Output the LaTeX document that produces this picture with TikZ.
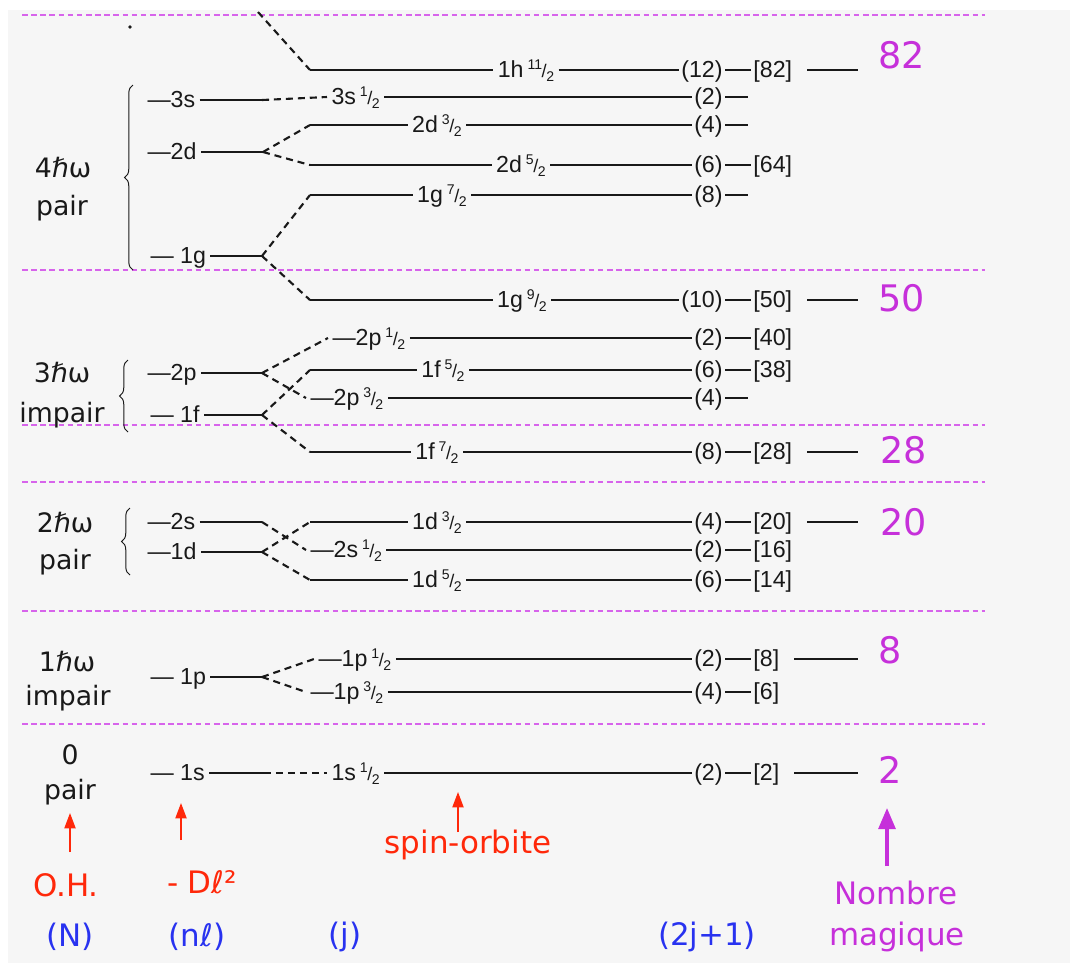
\documentclass[tikz,border=0pt]{standalone}
\usepackage{fontspec}
\setmainfont{Liberation Sans}
\newfontfamily\hand{DejaVu Sans}
\usetikzlibrary{arrows.meta,decorations.pathreplacing}
\definecolor{ink}{RGB}{25,25,25}
\definecolor{bgc}{RGB}{246,246,246}
\definecolor{sepc}{RGB}{215,100,235}
\definecolor{magc}{RGB}{198,48,218}
\definecolor{redc}{RGB}{255,40,10}
\definecolor{bluec}{RGB}{40,50,240}
\newcommand\jf[2]{\raisebox{0.6ex}{\fontsize{10}{10}\selectfont#1}\kern-0.3pt{\fontsize{13}{13}\selectfont/}\kern-0.3pt\raisebox{-0.35ex}{\fontsize{10}{10}\selectfont#2}}
\begin{document}
\begin{tikzpicture}[x=0.025cm,y=-0.025cm,
  lev/.style={ink,line width=2.1pt},
  spl/.style={ink,line width=1.5pt,dash pattern=on 5pt off 3.5pt},
  sep/.style={sepc,line width=0.8pt,dash pattern=on 4pt off 2.5pt},
  lab/.style={font=\fontsize{16.5}{16.5}\selectfont,text=ink,inner xsep=3pt,inner ysep=0pt,text height=12pt,text depth=2pt},
  num/.style={font=\fontsize{16.5}{16.5}\selectfont,text=ink,inner xsep=1.5pt,inner ysep=0pt,text height=12pt,text depth=2pt},
  shell/.style={font=\hand\fontsize{19}{19}\selectfont,text=ink,inner sep=0pt},
  ann/.style={font=\hand\fontsize{22}{22}\selectfont,inner sep=0pt},
  magic/.style={font=\hand\fontsize{26}{26}\selectfont,text=magc,inner sep=0pt,anchor=west},
  brc/.style={ink,line width=0.7pt,decorate,decoration={brace,amplitude=6pt}},
  rarr/.style={redc,line width=1.1pt,-{Triangle[length=11pt,width=8pt]}},
  marr/.style={magc,line width=2.4pt,-{Triangle[length=15pt,width=12pt]}}
]
\useasboundingbox (0,0) rectangle (1070,963);
\fill[white] (0,0) rectangle (1070,963);
\fill[bgc] (8,10) rectangle (1070,963);
\foreach \yy in {15,270,425,482,611,724} \draw[sep] (22,\yy) -- (985,\yy);
\fill[ink] (130,27) circle (1.8);

% ---------- N column ----------
\node[shell] (N4a) at (63,168) {4ℏω};
\node[shell] (N4b) at (62,208) {pair};
\node[shell] (N3a) at (62,373) {3ℏω};
\node[shell] (N3b) at (62,415) {impair};
\node[shell] (N2a) at (65,523) {2ℏω};
\node[shell] (N2b) at (65,562) {pair};
\node[shell] (N1a) at (67,662) {1ℏω};
\node[shell] (N1b) at (68,698) {impair};
\node[shell] (N0a) at (70,755) {0};
\node[shell] (N0b) at (70,792) {pair};
\draw[brc] (133,270) -- (133,85);
\draw[brc] (128,432) -- (128,360);
\draw[brc] (130,575) -- (130,508);

% ---------- nl column ----------
\node[lab,anchor=west] (n3s) at (143,100) {—3s};
\node[lab,anchor=west] (n2d) at (143,152) {—2d};
\node[lab,anchor=west] (n1g) at (146,256) {— 1g};
\node[lab,anchor=west] (n2p) at (143,373) {—2p};
\node[lab,anchor=west] (n1f) at (146,415) {— 1f};
\node[lab,anchor=west] (n2s) at (143,522) {—2s};
\node[lab,anchor=west] (n1d) at (143,552) {—1d};
\node[lab,anchor=west] (n1p) at (146,677) {— 1p};
\node[lab,anchor=west] (n1s) at (146,773) {— 1s};
\coordinate (c3s) at (262,100);
\coordinate (c2d) at (263,152);
\coordinate (c1g) at (262,256);
\coordinate (c2p) at (262,373);
\coordinate (c1f) at (262,415);
\coordinate (c2s) at (262,522);
\coordinate (c1d) at (262,552);
\coordinate (c1p) at (262,677);
\coordinate (c1s) at (264,773);
\foreach \n in {3s,2d,1g,2p,1f,2s,1d,1p,1s} \draw[lev] (n\n) -- (c\n);

% ---------- j column ----------
\coordinate (s1h) at (310,70);
\coordinate (s2d3) at (310,125);
\coordinate (s2d5) at (310,165);
\coordinate (s1g7) at (310,195);
\coordinate (s1g9) at (310,300);
\coordinate (s1f5) at (310,370);
\coordinate (s1f7) at (310,452);
\coordinate (s1d3) at (310,522);
\coordinate (s1d5) at (310,580);
\node[lab] (j1h) at (526,70) {1h\,\jf{11}{2}};
\node[lab,anchor=west] (j3s) at (327,97) {3s\,\jf12};
\node[lab] (j2d3) at (437,125) {2d\,\jf32};
\node[lab] (j2d5) at (521,165) {2d\,\jf52};
\node[lab] (j1g7) at (442,195) {1g\,\jf72};
\node[lab] (j1g9) at (522,300) {1g\,\jf92};
\node[lab,anchor=west] (j2p1) at (328,338) {—2p\,\jf12};
\node[lab] (j1f5) at (443,370) {1f\,\jf52};
\node[lab,anchor=west] (j2p3) at (306,398) {—2p\,\jf32};
\node[lab] (j1f7) at (437,452) {1f\,\jf72};
\node[lab] (j1d3) at (437,522) {1d\,\jf32};
\node[lab,anchor=west] (j2s) at (306,550) {—2s\,\jf12};
\node[lab] (j1d5) at (437,580) {1d\,\jf52};
\node[lab,anchor=west] (j1p1) at (314,659) {—1p\,\jf12};
\node[lab,anchor=west] (j1p3) at (306,692) {—1p\,\jf32};
\node[lab,anchor=west] (j1s) at (327,773) {1s\,\jf12};

% splitting (dashed)
\coordinate (t1h) at (258,12);
\draw[spl] (t1h) -- (s1h);
\draw[spl] (c3s) -- (j3s.west);
\draw[spl] (c2d) -- (s2d3);
\draw[spl] (c2d) -- (s2d5);
\draw[spl] (c1g) -- (s1g7);
\draw[spl] (c1g) -- (s1g9);
\draw[spl] (c2p) -- (j2p1.west);
\draw[spl] (c2p) -- (j2p3.west);
\draw[spl] (c1f) -- (s1f5);
\draw[spl] (c1f) -- (s1f7);
\draw[spl] (c2s) -- (j2s.west);
\draw[spl] (c1d) -- (s1d3);
\draw[spl] (c1d) -- (s1d5);
\draw[spl] (c1p) -- (j1p1.west);
\draw[spl] (c1p) -- (j1p3.west);
\draw[spl] (c1s) -- (j1s.west);

% left solid parts of j levels
\draw[lev] (s1h) -- (j1h);
\draw[lev] (s2d3) -- (j2d3);
\draw[lev] (s2d5) -- (j2d5);
\draw[lev] (s1g7) -- (j1g7);
\draw[lev] (s1g9) -- (j1g9);
\draw[lev] (s1f5) -- (j1f5);
\draw[lev] (s1f7) -- (j1f7);
\draw[lev] (s1d3) -- (j1d3);
\draw[lev] (s1d5) -- (j1d5);

% ---------- (2j+1) and [N] columns ----------
\node[num,anchor=east] (d1h) at (725,70) {(12)};
\node[num,anchor=east] (d3s) at (725,97) {(2)};
\node[num,anchor=east] (d2d3) at (725,125) {(4)};
\node[num,anchor=east] (d2d5) at (725,165) {(6)};
\node[num,anchor=east] (d1g7) at (725,195) {(8)};
\node[num,anchor=east] (d1g9) at (725,300) {(10)};
\node[num,anchor=east] (d2p1) at (725,338) {(2)};
\node[num,anchor=east] (d1f5) at (725,370) {(6)};
\node[num,anchor=east] (d2p3) at (725,398) {(4)};
\node[num,anchor=east] (d1f7) at (725,452) {(8)};
\node[num,anchor=east] (d1d3) at (725,522) {(4)};
\node[num,anchor=east] (d2s) at (725,550) {(2)};
\node[num,anchor=east] (d1d5) at (725,580) {(6)};
\node[num,anchor=east] (d1p1) at (725,659) {(2)};
\node[num,anchor=east] (d1p3) at (725,692) {(4)};
\node[num,anchor=east] (d1s) at (725,773) {(2)};
\foreach \n in {1h,3s,2d3,2d5,1g7,1g9,2p1,1f5,2p3,1f7,1d3,2s,1d5,1p1,1p3,1s}
  \draw[lev] (j\n) -- (d\n);

\node[num,anchor=west] (b1h) at (751,70) {[82]};
\node[num,anchor=west] (b2d5) at (751,165) {[64]};
\node[num,anchor=west] (b1g9) at (751,300) {[50]};
\node[num,anchor=west] (b2p1) at (751,338) {[40]};
\node[num,anchor=west] (b1f5) at (751,370) {[38]};
\node[num,anchor=west] (b1f7) at (751,452) {[28]};
\node[num,anchor=west] (b1d3) at (751,522) {[20]};
\node[num,anchor=west] (b2s) at (751,550) {[16]};
\node[num,anchor=west] (b1d5) at (751,580) {[14]};
\node[num,anchor=west] (b1p1) at (751,659) {[8]};
\node[num,anchor=west] (b1p3) at (751,692) {[6]};
\node[num,anchor=west] (b1s) at (751,773) {[2]};
\foreach \n in {1h,2d5,1g9,2p1,1f5,1f7,1d3,2s,1d5,1p1,1p3,1s}
  \draw[ink,line width=1.7pt] (d\n) -- (b\n);
\foreach \n/\yy in {3s/97,2d3/125,1g7/195,2p3/398} {
  \coordinate (e\n) at (748,\yy);
  \draw[ink,line width=1.7pt] (d\n) -- (e\n);
}

% ---------- magic numbers ----------
\node[magic] (m82) at (878,55) {82};
\node[magic] (m50) at (878,298) {50};
\node[magic] (m28) at (880,450) {28};
\node[magic] (m20) at (880,522) {20};
\node[magic] (m8) at (878,650) {8};
\node[magic] (m2) at (878,770) {2};
\foreach \n/\m/\yy in {1h/82/70,1g9/50/300,1f7/28/452,1d3/20/522,1p1/8/659,1s/2/773} {
  \coordinate (g\n) at (858,\yy);
  \draw[ink,line width=2pt] ([xshift=9pt]b\n.east) -- (g\n);
}

% ---------- annotations ----------
\node[ann,text=redc] (oh) at (66,885) {O.H.};
\node[ann,text=redc] (dl) at (202,882) {- Dℓ²};
\node[ann,text=redc] (so) at (468,845) {spin-orbite};
\coordinate (aoh1) at (70,852); \coordinate (aoh2) at (70,813);
\coordinate (adl1) at (181,840); \coordinate (adl2) at (181,803);
\coordinate (aso1) at (458,832); \coordinate (aso2) at (458,792);
\draw[rarr] (aoh1) -- (aoh2);
\draw[rarr] (adl1) -- (adl2);
\draw[rarr] (aso1) -- (aso2);

\node[ann,text=magc] (nb) at (896,893) {Nombre};
\node[ann,text=magc] (mq) at (897,937) {magique};
\coordinate (am1) at (887,866); \coordinate (am2) at (887,808);
\draw[marr] (am1) -- (am2);

\node[ann,text=bluec] (cN) at (70,937) {(N)};
\node[ann,text=bluec] (cnl) at (197,937) {(nℓ)};
\node[ann,text=bluec] (cj) at (345,937) {(j)};
\node[ann,text=bluec] (c2j) at (707,937) {(2j+1)};
\end{tikzpicture}
\end{document}
